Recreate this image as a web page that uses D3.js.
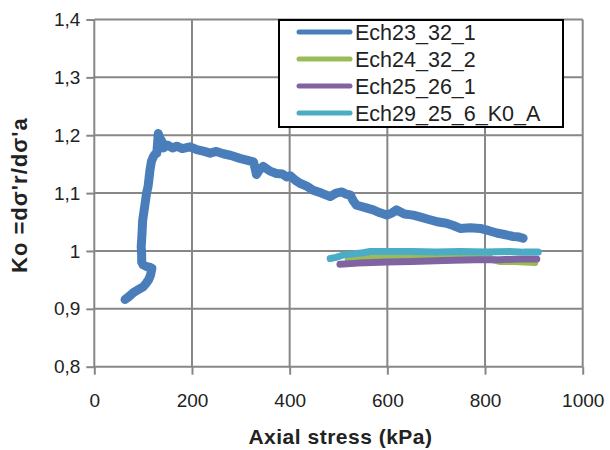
<!DOCTYPE html>
<html>
<head>
<meta charset="utf-8">
<script src="https://cdn.jsdelivr.net/npm/d3@7"></script>
<style>
  html, body { margin: 0; padding: 0; background: #fff; }
  svg { display: block; }
  text { font-family: "Liberation Sans", Arial, sans-serif; fill: #222; }
</style>
</head>
<body>
<svg id="chart" width="610" height="450"></svg>
<script>
// Axial stress (kPa) and Ko readings per test
const ech23_x = [63, 72, 80, 90, 100, 106, 111, 115, 118, 113, 107, 100, 97, 97, 96, 97, 98, 99, 102, 105, 107, 110, 112, 114, 117, 121, 124, 128, 131, 134, 138, 141, 150, 160, 169, 180, 196, 210, 225, 237, 250, 264, 280, 298, 312, 326, 330, 332, 338, 346, 360, 373, 385, 394, 401, 412, 421, 435, 448, 465, 483, 495, 507, 516, 524, 530, 537, 555, 571, 585, 599, 610, 619, 635, 653, 670, 687, 705, 721, 735, 749, 770, 790, 808, 824, 842, 858, 870, 878];
const ech23_y = [0.916, 0.922, 0.928, 0.933, 0.938, 0.944, 0.950, 0.958, 0.970, 0.972, 0.973, 0.976, 0.981, 0.995, 1.007, 1.020, 1.035, 1.053, 1.070, 1.088, 1.100, 1.111, 1.125, 1.140, 1.155, 1.163, 1.167, 1.169, 1.203, 1.195, 1.190, 1.178, 1.183, 1.178, 1.181, 1.177, 1.180, 1.175, 1.172, 1.169, 1.172, 1.168, 1.165, 1.160, 1.157, 1.154, 1.140, 1.132, 1.140, 1.146, 1.138, 1.134, 1.133, 1.128, 1.130, 1.122, 1.117, 1.112, 1.105, 1.100, 1.094, 1.100, 1.102, 1.098, 1.097, 1.087, 1.079, 1.075, 1.071, 1.066, 1.062, 1.066, 1.071, 1.064, 1.062, 1.058, 1.054, 1.050, 1.048, 1.044, 1.039, 1.040, 1.039, 1.035, 1.031, 1.028, 1.025, 1.024, 1.022];

const ech24_x = [520, 575, 620, 667, 720, 770, 803, 815, 830, 860, 902];
const ech24_y = [0.985, 0.989, 0.990, 0.992, 0.993, 0.993, 0.993, 0.985, 0.982, 0.982, 0.980];

const ech25_x = [503, 540, 599, 650, 700, 735, 780, 830, 870, 906];
const ech25_y = [0.977, 0.979, 0.981, 0.982, 0.983, 0.984, 0.985, 0.985, 0.986, 0.986];

const ech29_x = [483, 495, 510, 530, 550, 565, 600, 650, 700, 750, 800, 850, 880, 909];
const ech29_y = [0.987, 0.989, 0.993, 0.995, 0.997, 0.999, 0.999, 0.999, 0.998, 0.999, 0.998, 0.999, 0.998, 0.998];

const seriesNames = ["Ech23_32_1", "Ech24_32_2", "Ech25_26_1", "Ech29_25_6_K0_A"];
const seriesColors = ["#4a7ebb", "#9bbb59", "#8064a2", "#4bacc6"];
const seriesWidths = [9, 7, 7, 7];

const xTicks = [0, 200, 400, 600, 800, 1000];
const yTicks = [0.8, 0.9, 1.0, 1.1, 1.2, 1.3, 1.4];
const yTickLabels = ["0,8", "0,9", "1", "1,1", "1,2", "1,3", "1,4"];

const xTitle = "Axial  stress (kPa)";
const yTitle = "Ko =dσ'r/dσ'a";

const svg = d3.select("#chart");

const x = d3.scaleLinear().domain([0, 1000]).range([94.3, 582.7]);
const y = d3.scaleLinear().domain([0.8, 1.4]).range([366.7, 19.5]);

const gridColor = "#878787";

// grid lines
const grid = svg.append("g");
grid.selectAll(".gx").data(xTicks).join("line")
  .attr("x1", d => x(d)).attr("x2", d => x(d))
  .attr("y1", y(1.4)).attr("y2", y(0.8))
  .attr("stroke", gridColor).attr("stroke-width", 2);
grid.selectAll(".gy").data(yTicks).join("line")
  .attr("x1", x(0)).attr("x2", x(1000))
  .attr("y1", d => y(d)).attr("y2", d => y(d))
  .attr("stroke", gridColor).attr("stroke-width", 2);

// axes
const xAxis = d3.axisBottom(x).tickValues(xTicks).tickSize(8).tickPadding(19).tickFormat(d3.format("d"));
const gx = svg.append("g").attr("transform", `translate(0,${y(0.8)})`).call(xAxis);
gx.select(".domain").remove();
gx.selectAll(".tick line").attr("stroke", gridColor).attr("stroke-width", 2);
gx.selectAll(".tick text").style("font-size", "19px").attr("fill", "#222");

const yAxis = d3.axisLeft(y).tickValues(yTicks).tickSize(8).tickPadding(6)
  .tickFormat((d, i) => yTickLabels[i]);
const gy = svg.append("g").attr("transform", `translate(${x(0)},0)`).call(yAxis);
gy.select(".domain").remove();
gy.selectAll(".tick line").attr("stroke", gridColor).attr("stroke-width", 2);
gy.selectAll(".tick text").style("font-size", "19px").attr("fill", "#222");

// axis titles
svg.append("text")
  .attr("x", (x(0) + x(1000)) / 2 + 2).attr("y", 444)
  .attr("text-anchor", "middle")
  .style("font-size", "21px").style("font-weight", "bold")
  .style("letter-spacing", "0.5px")
  .text(xTitle);

svg.append("text")
  .attr("transform", `translate(27,${(y(0.8) + y(1.4)) / 2 + 2}) rotate(-90)`)
  .attr("text-anchor", "middle")
  .style("font-size", "22px").style("font-weight", "bold")
  .style("letter-spacing", "1px")
  .text(yTitle);

// series
const series = [
  { x: ech23_x, y: ech23_y },
  { x: ech24_x, y: ech24_y },
  { x: ech25_x, y: ech25_y },
  { x: ech29_x, y: ech29_y }
];

const line = d3.line().x(d => x(d[0])).y(d => y(d[1]));

series.forEach((s, i) => {
  const pts = s.x.map((v, j) => [v, s.y[j]]);
  svg.append("path")
    .datum(pts)
    .attr("d", line)
    .attr("fill", "none")
    .attr("stroke", seriesColors[i])
    .attr("stroke-width", seriesWidths[i])
    .attr("stroke-linejoin", "round")
    .attr("stroke-linecap", "round");
});

// legend
const lg = svg.append("g");
lg.append("rect")
  .attr("x", 279).attr("y", 20).attr("width", 284).attr("height", 107)
  .attr("fill", "#fff").attr("stroke", "#000").attr("stroke-width", 2);
const rowY = [32, 59, 86, 113];
seriesNames.forEach((name, i) => {
  lg.append("line")
    .attr("x1", 299).attr("x2", 350)
    .attr("y1", rowY[i]).attr("y2", rowY[i])
    .attr("stroke", seriesColors[i]).attr("stroke-width", 5)
    .attr("stroke-linecap", "round");
  lg.append("text")
    .attr("x", 355).attr("y", rowY[i] + 8)
    .style("font-size", "21.5px")
    .text(name);
});
</script>
</body>
</html>
